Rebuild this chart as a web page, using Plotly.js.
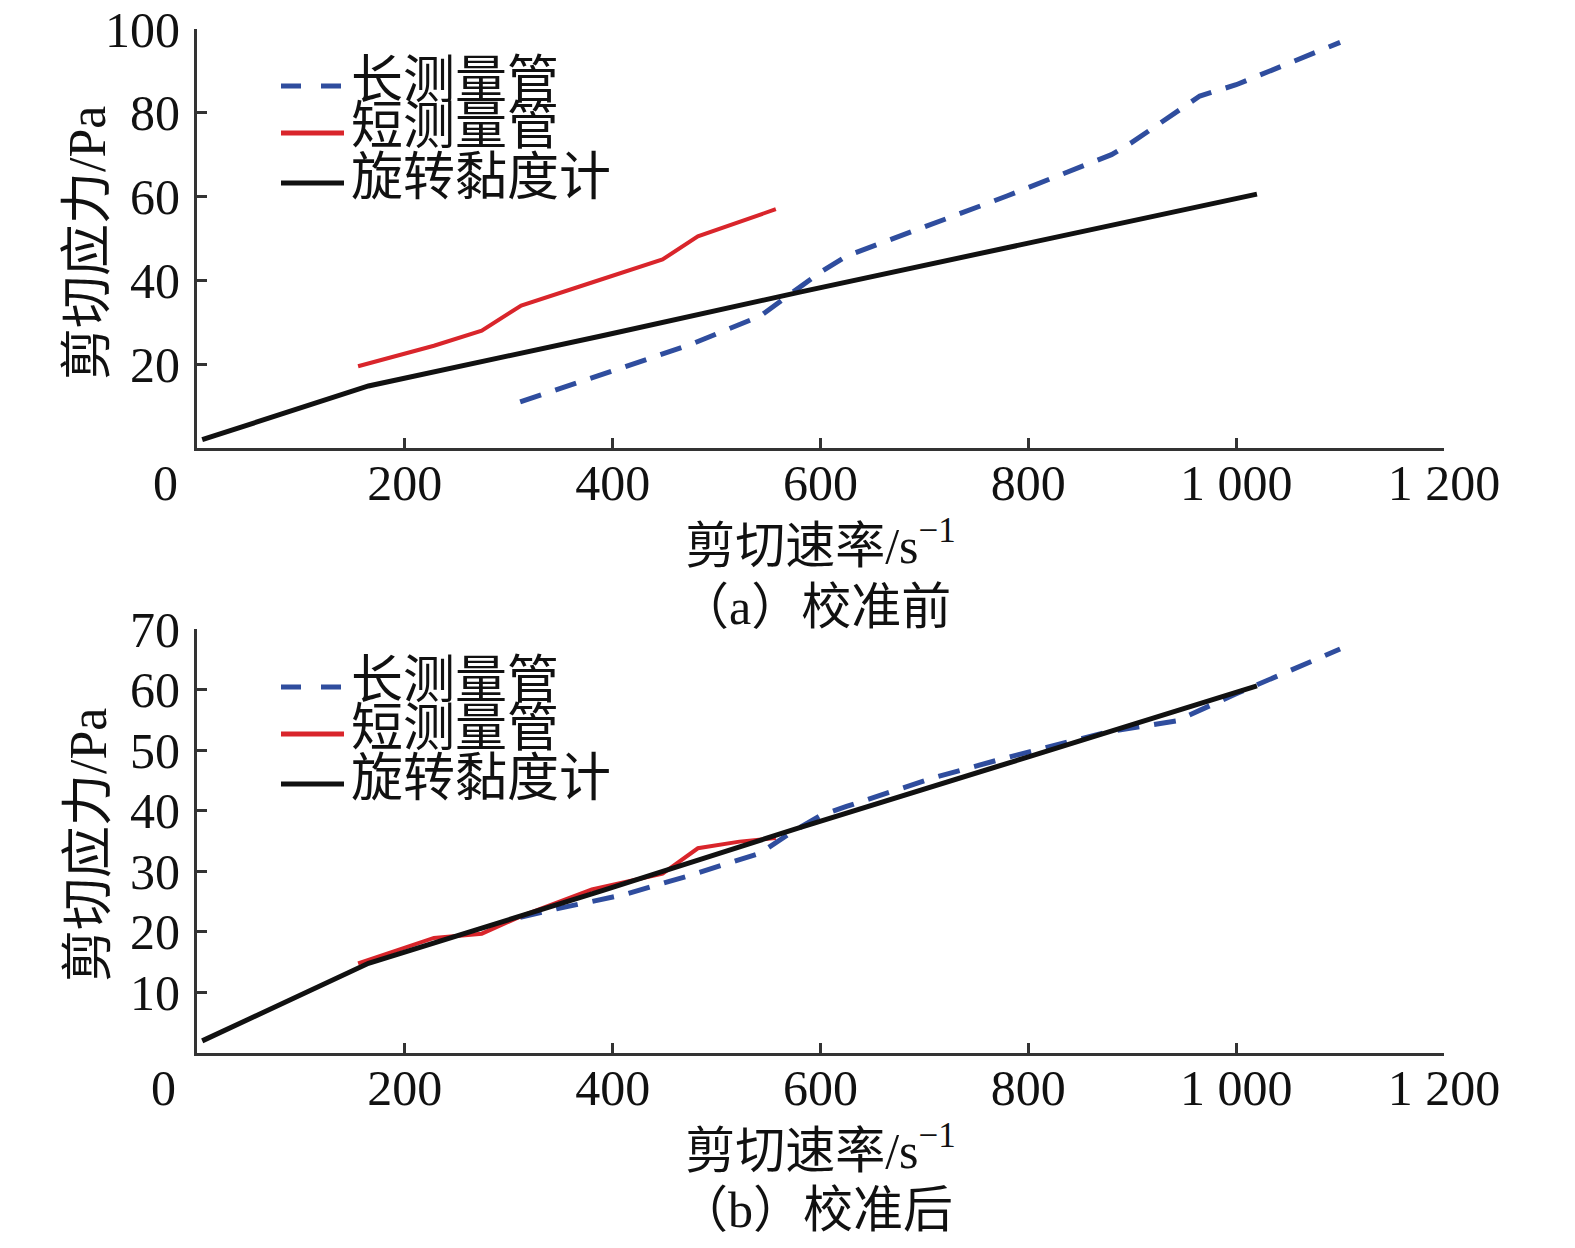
<!DOCTYPE html>
<html>
<head>
<meta charset="utf-8">
<script src="https://cdn.plot.ly/plotly-3.0.1.min.js"></script>
<style>html,body{margin:0;padding:0;background:#fff;}#chart{width:1575px;height:1248px;}</style>
</head>
<body>
<div id="chart"></div>
<script>
// ---- data ----
const seriesNames = ['长测量管', '短测量管', '旋转黏度计'];
const xTickVals = [200, 400, 600, 800, 1000, 1200];
const xTickText = ['200', '400', '600', '800', '1 000', '1 200'];
const yTickValsA = [20, 40, 60, 80, 100];
const yTickValsB = [10, 20, 30, 40, 50, 60, 70];

// rotational viscometer (reference, same in both panels)
const rateViscometer = [5, 20, 165, 390, 580, 800, 1020];
const stressViscometer = [2, 3.2, 14.8, 26.8, 37.2, 48.9, 60.6];

// short tube
const rateShort = [155, 228, 274, 312, 380, 448, 482, 522, 557];
const stressShortBefore = [19.5, 24.4, 28, 34, 39.5, 45, 50.5, 54, 57];
const stressShortAfter = [14.8, 19, 19.7, 22.6, 27, 29.6, 33.8, 34.9, 35.5];

// long tube
const rateLongBefore = [311, 346, 410, 474, 542, 570, 600, 625, 710, 780, 880, 900, 965, 1000, 1100];
const stressLongBefore = [11, 13.9, 19.2, 24.6, 31.5, 36.5, 42, 45.8, 53.8, 60.2, 70, 73, 84, 86.7, 96.8];
const rateLongAfter = [311, 346, 410, 474, 542, 570, 600, 625, 710, 780, 876, 942, 1000, 1100];
const stressLongAfter = [22.4, 23.8, 26.1, 29.3, 33, 36.2, 39.2, 40.7, 45.5, 48.8, 53, 54.8, 59.3, 66.7];

const captions = ['（a）校准前', '（b）校准后'];
const xTitle = '剪切速率/s<sup>−1</sup>';
const yTitle = '剪切应力/Pa';

// ---- styles ----
const FONT = '"Liberation Serif", "Noto Sans CJK SC", serif';
const BLUE = '#2f4d9e', RED = '#d9252b', BLACK = '#111111';
const lineStyles = [
  {color: BLUE, width: 5, dash: '22px,15px'},
  {color: RED, width: 4},
  {color: BLACK, width: 5}
];

const traces = [
  {x: rateLongBefore, y: stressLongBefore, name: seriesNames[0], line: lineStyles[0], xaxis: 'x', yaxis: 'y'},
  {x: rateShort, y: stressShortBefore, name: seriesNames[1], line: lineStyles[1], xaxis: 'x', yaxis: 'y'},
  {x: rateViscometer, y: stressViscometer, name: seriesNames[2], line: lineStyles[2], xaxis: 'x', yaxis: 'y'},
  {x: rateLongAfter, y: stressLongAfter, name: seriesNames[0], line: lineStyles[0], xaxis: 'x2', yaxis: 'y2'},
  {x: rateShort, y: stressShortAfter, name: seriesNames[1], line: lineStyles[1], xaxis: 'x2', yaxis: 'y2'},
  {x: rateViscometer, y: stressViscometer, name: seriesNames[2], line: lineStyles[2], xaxis: 'x2', yaxis: 'y2'}
].map(t => Object.assign({type: 'scatter', mode: 'lines', showlegend: false}, t));

const W = 1575, H = 1248;
const px = v => v / W, py = v => 1 - v / H;

function xAxis(anchor) {
  return {
    domain: [px(197), px(1444)], range: [0, 1200], anchor: anchor,
    tickvals: xTickVals, ticktext: xTickText,
    ticks: 'inside', ticklen: 10, tickwidth: 3, tickcolor: '#333',
    showline: true, linewidth: 3, linecolor: '#333',
    showgrid: false, zeroline: false,
    tickfont: {family: FONT, size: 50, color: '#111'},
    ticklabelstandoff: -11,
    title: {text: xTitle, font: {family: FONT, size: 50, color: '#111'}, standoff: 4}
  };
}
function yAxis(anchor, range, vals, dom) {
  return {
    domain: dom, range: range, anchor: anchor,
    tickvals: vals,
    ticks: 'inside', ticklen: 10, tickwidth: 3, tickcolor: '#333',
    showline: true, linewidth: 3, linecolor: '#333',
    showgrid: false, zeroline: false,
    tickfont: {family: FONT, size: 50, color: '#111'},
    ticklabelstandoff: 4
  };
}

// custom legends
const legendRowsA = [86, 133, 183];
const legendRowsB = [687, 734, 784];
const shapes = [], annotations = [];
[legendRowsA, legendRowsB].forEach(rows => {
  rows.forEach((r, i) => {
    shapes.push({type: 'line', xref: 'paper', yref: 'paper',
      x0: px(281), x1: px(344), y0: py(r), y1: py(r),
      line: {color: lineStyles[i].color, width: 5, dash: lineStyles[i].dash ? '20px,20px' : 'solid'}});
    annotations.push({xref: 'paper', yref: 'paper', x: px(349), y: py(r - 6),
      xanchor: 'left', yanchor: 'middle', showarrow: false, text: seriesNames[i],
      font: {family: FONT, size: 52, color: '#111'}});
  });
});
// y titles
[[243], [845]].forEach(([cy]) => {
  annotations.push({xref: 'paper', yref: 'paper', x: px(88), y: py(cy), showarrow: false, text: yTitle,
    textangle: -90, xanchor: 'center', yanchor: 'middle', font: {family: FONT, size: 52, color: '#111'}});
});
// origin labels
annotations.push({xref: 'paper', yref: 'paper', x: px(165), y: py(483), showarrow: false, text: '0',
  xanchor: 'center', yanchor: 'middle', font: {family: FONT, size: 50, color: '#111'}});
annotations.push({xref: 'paper', yref: 'paper', x: px(163), y: py(1088), showarrow: false, text: '0',
  xanchor: 'center', yanchor: 'middle', font: {family: FONT, size: 50, color: '#111'}});
// captions
annotations.push({xref: 'paper', yref: 'paper', x: px(815), y: py(607), showarrow: false, text: captions[0],
  xanchor: 'center', yanchor: 'middle', font: {family: FONT, size: 50, color: '#111'}});
annotations.push({xref: 'paper', yref: 'paper', x: px(815), y: py(1210), showarrow: false, text: captions[1],
  xanchor: 'center', yanchor: 'middle', font: {family: FONT, size: 50, color: '#111'}});

const layout = {
  width: W, height: H,
  margin: {l: 0, r: 0, t: 0, b: 0},
  paper_bgcolor: '#fff', plot_bgcolor: '#fff',
  showlegend: false,
  xaxis: xAxis('y'),
  yaxis: yAxis('x', [0, 100], yTickValsA, [py(448), py(29)]),
  xaxis2: xAxis('y2'),
  yaxis2: yAxis('x2', [0, 70], yTickValsB, [py(1053), py(629)]),
  shapes: shapes,
  annotations: annotations
};

Plotly.newPlot('chart', traces, layout, {displayModeBar: false, staticPlot: true});
</script>
</body>
</html>
